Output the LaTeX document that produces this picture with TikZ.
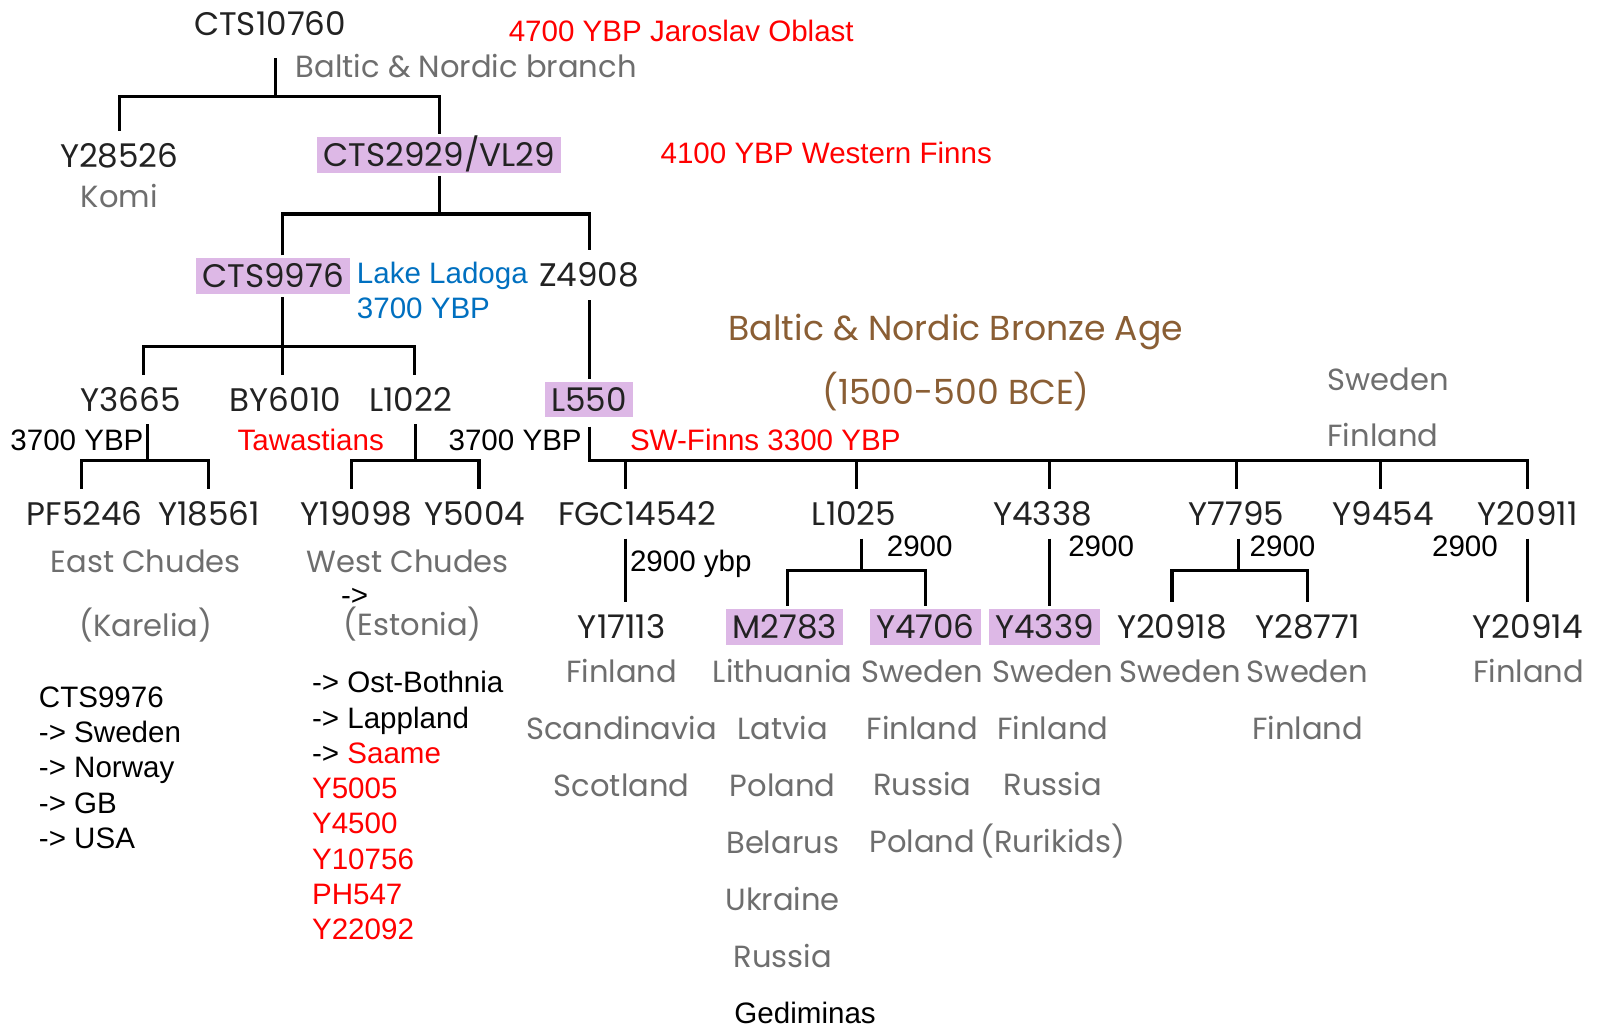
\documentclass[tikz,border=0pt]{standalone}
\usepackage{fontspec}
\setmainfont{Liberation Sans}
\newfontfamily\hgfont{Poppins}
\usetikzlibrary{positioning}
\definecolor{hgink}{HTML}{222222}
\definecolor{hggray}{HTML}{6E6E6E}
\definecolor{hgbrown}{HTML}{8A5E34}
\definecolor{hgpink}{HTML}{DDB8E6}
\definecolor{hgred}{HTML}{FF0000}
\definecolor{hgblue}{HTML}{0070C0}
\tikzset{
  branch/.style={line width=3pt, draw=black},
  snp/.style={font=\hgfont\fontsize{32}{36}\selectfont, text=hgink, inner sep=0pt,
    outer ysep=13pt, text height=23pt, text depth=0pt},
  snpmark/.style={snp, fill=hgpink, inner xsep=6pt, inner ysep=6pt, outer ysep=3pt},
  place/.style={font=\hgfont\fontsize{30}{34}\selectfont, text=hggray, inner sep=0pt,
    text height=22pt, text depth=0pt},
  placelist/.style={font=\hgfont\fontsize{30}{55.8}\selectfont, text=hggray, inner sep=0pt,
    align=center, anchor=north},
  era/.style={font=\hgfont\fontsize{34}{38}\selectfont, text=hgbrown, inner sep=0pt,
    text height=24pt, text depth=0pt},
  note/.style={font=\fontsize{29}{34.5}\selectfont, text=black, inner sep=0pt,
    text height=20.8pt, text depth=0pt, anchor=west},
  rednote/.style={note, text=hgred},
  bluenote/.style={note, text=hgblue},
  notelist/.style={font=\fontsize{29}{34.6}\selectfont, inner sep=0pt, align=left, anchor=north west}
}

\begin{document}
\begin{tikzpicture}[x=1pt,y=-1pt]
    \path[fill=white] (0,0) rectangle (1568,1009);
    \useasboundingbox (0,0) rectangle (1568,1009);

    % top of the tree
    \node[snp] (cts10760) at (265,23) {CTS10760};
    \node[place, anchor=west] (balticnordic) at (290,65) {Baltic \& Nordic branch};
    \node[rednote] (jaroslav) at (499,30) {4700 YBP Jaroslav Oblast};
    \node[snp] (y28526) at (117,153) {Y28526};
    \node[place, below=3.5pt of y28526] (komi) {Komi};
    \node[snpmark] (cts2929) at (431,152) {CTS2929/VL29};
    \node[rednote] (westfinns) at (648,150) {4100 YBP Western Finns};

    \node[snpmark] (cts9976) at (268,271) {CTS9976};
    \node[bluenote] (ladoga) at (350,268) {Lake Ladoga};
    \node[bluenote, below=13pt of ladoga.south west, anchor=north west] (ladogaage) {3700 YBP};
    \node[snp] (z4908) at (578,270) {Z4908};

    \node[era] (bronze) at (938,322) {Baltic \& Nordic Bronze Age};
    \node[era] (bronzeage) at (938,385) {(1500-500 BCE)};
    \node[place] (swedenn) at (1362,372) {Sweden};
    \node[place] (finlandn) at (1357,427) {Finland};

    \node[snp] (y3665) at (128,392) {Y3665};
    \node[snp] (by6010) at (280,392) {BY6010};
    \node[snp] (l1022) at (403,392) {L1022};
    \node[snpmark] (l550) at (578,392) {L550};

    \node[note] (agea) at (10,432) {3700 YBP};
    \node[rednote] (tawast) at (233,432) {Tawastians};
    \node[note] (ageb) at (440,432) {3700 YBP};
    \node[rednote] (swfinns) at (618,432) {SW-Finns 3300 YBP};

    % third row
    \node[snp] (pf5246) at (83,504) {PF5246};
    \node[snp] (y18561) at (205,504) {Y18561};
    \node[snp] (y19098) at (350,504) {Y19098};
    \node[snp] (y5004) at (466,504) {Y5004};
    \node[snp] (fgc14542) at (625,504) {FGC14542};
    \node[snp] (l1025) at (838,504) {L1025};
    \node[snp] (y4338) at (1023,504) {Y4338};
    \node[snp] (y7795) at (1213,504) {Y7795};
    \node[snp] (y9454) at (1357,504) {Y9454};
    \node[snp] (y20911) at (1499,504) {Y20911};

    \node[place] (eastch) at (143,551) {East Chudes};
    \node[place, below=40pt of eastch] (karelia) {(Karelia)};
    \node[place] (westch) at (400,551) {West Chudes};
    \node[note, anchor=center] (estarrow) at (348,584) {->};
    \node[place] (estonia) at (405,613) {(Estonia)};

    \node[note] (agec) at (618,550) {2900 ybp};
    \node[note] (aged) at (870,536) {2900};
    \node[note] (agee) at (1048,536) {2900};
    \node[note] (agef) at (1226,536) {2900};
    \node[note] (ageg) at (1405,536) {2900};

    % fourth row
    \node[snp] (y17113) at (610,615) {Y17113};
    \node[snpmark] (m2783) at (770,615) {M2783};
    \node[snpmark] (y4706) at (908,615) {Y4706};
    \node[snpmark] (y4339) at (1025,615) {Y4339};
    \node[snp] (y20918) at (1150,615) {Y20918};
    \node[snp] (y28771) at (1283,615) {Y28771};
    \node[snp] (y20914) at (1499,615) {Y20914};

    \node[placelist] (cfgc) at (610,647) {Finland\\Scandinavia\\Scotland};
    \node[placelist] (cm2783) at (768,647) {Lithuania\\Latvia\\Poland\\Belarus\\Ukraine\\Russia};
    \node[placelist] (cy4706) at (905,647) {Sweden\\Finland\\Russia\\Poland};
    \node[placelist] (cy4339) at (1033,647) {Sweden\\Finland\\Russia\\(Rurikids)};
    \node[placelist] (cy20918) at (1158,647) {Sweden};
    \node[placelist] (cy28771) at (1283,647) {Sweden\\Finland};
    \node[placelist] (cy20914) at (1500,647) {Finland};
    \node[note, anchor=center] (gedim) at (790,994) {Gediminas};

    \node[notelist] (cts9976list) at (38,673.6) {CTS9976\\-> Sweden\\-> Norway\\-> GB\\-> USA};
    \node[notelist] (samelist) at (306,658.6) {-> Ost-Bothnia\\-> Lappland\\-> \textcolor{hgred}{Saame}\\
      \textcolor{hgred}{Y5005}\\\textcolor{hgred}{Y4500}\\\textcolor{hgred}{Y10756}\\
      \textcolor{hgred}{PH547}\\\textcolor{hgred}{Y22092}};

    % branches
    \coordinate (j0) at (270,95);
    \draw[branch, shorten <=9.5pt] (j0 |- cts10760.south) -- (j0);
    \draw[branch] (y28526.north) |- (j0) -| (cts2929.north);

    \coordinate (j1) at (431,210);
    \coordinate (j2) at (277,340);
    \draw[branch] (cts2929.south) -- (j1);
    \draw[branch] (j2 |- cts9976.north) |- (j1) -| (z4908.north);

    \draw[branch] (j2 |- cts9976.south) -- (j2 |- by6010.north);
    \draw[branch] ([xshift=13pt]y3665.north) |- (j2) -| ([xshift=4pt]l1022.north);

    \coordinate (j3) at (145,452);
    \draw[branch] (j3 |- y3665.south) -- (j3);
    \draw[branch] ([xshift=-3pt]pf5246.north) |- (j3) -| (y18561.north);

    \coordinate (j4) at (408,452);
    \draw[branch] (j4 |- l1022.south) -- (j4);
    \draw[branch] ([xshift=-5pt]y19098.north) |- (j4) -| ([xshift=4pt]y5004.north);

    \draw[branch] (z4908) -- (l550);

    \coordinate (j5) at (578,452);
    \draw[branch, shorten <=6pt] (l550.south) -- (j5) -| (y20911.north);
    \draw[branch] ([xshift=-11pt]fgc14542.north |- j5) -- ([xshift=-11pt]fgc14542.north);
    \draw[branch] ([xshift=2pt]l1025.north |- j5) -- ([xshift=2pt]l1025.north);
    \draw[branch] ([xshift=7pt]y4338.north |- j5) -- ([xshift=7pt]y4338.north);
    \draw[branch] (y7795.north |- j5) -- (y7795.north);
    \draw[branch] ([xshift=-2pt]y9454.north |- j5) -- ([xshift=-2pt]y9454.north);

    \draw[branch] ([xshift=-11pt]fgc14542.south) -- ([xshift=-11pt]fgc14542.south |- y17113.north);

    \coordinate (j6) at (845,560);
    \draw[branch] (j6 |- l1025.south) -- (j6);
    \draw[branch] ([xshift=3pt]m2783.north) |- (j6) -| (y4706.north);

    \draw[branch] ([xshift=7pt]y4338.south) -- ([xshift=7pt]y4338.south |- y4339.north);

    \coordinate (j7) at (1215,560);
    \draw[branch] (j7 |- y7795.south) -- (j7);
    \draw[branch] (y20918.north) |- (j7) -| (y28771.north);

    \draw[branch] (y20911) -- (y20914);
\end{tikzpicture}
\end{document}
